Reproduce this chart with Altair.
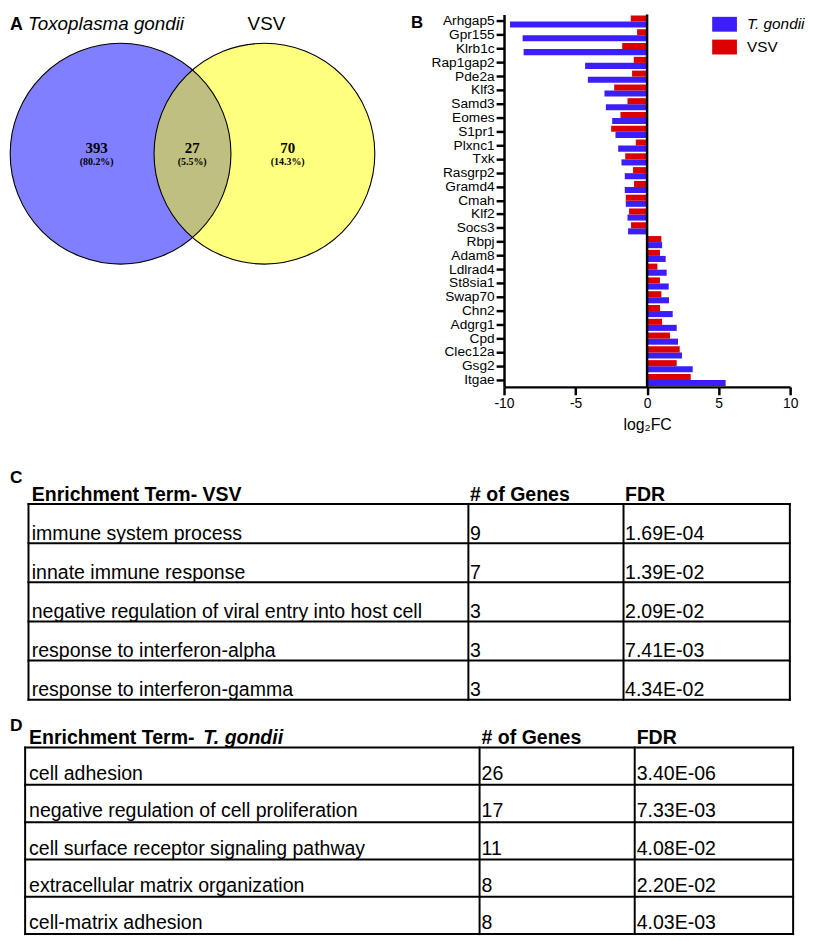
import altair as alt
import pandas as pd

SANS = "Liberation Sans"
SERIF = "Liberation Serif"
TFS = 19.7  # table font size

# ---------------- Panel A : Venn diagram ----------------
venn_sets = ["Toxoplasma gondii", "VSV"]
venn_set_colors = ["#0000FF", "#FFFF00"]
venn_regions = ["T. gondii only", "Both", "VSV only"]
venn_counts = [393, 27, 70]
venn_pcts = ["(80.2%)", "(5.5%)", "(14.3%)"]

# ---------------- Panel B : log2 fold changes ----------------
genes = ["Arhgap5", "Gpr155", "Klrb1c", "Rap1gap2", "Pde2a", "Klf3", "Samd3", "Eomes",
         "S1pr1", "Plxnc1", "Txk", "Rasgrp2", "Gramd4", "Cmah", "Klf2", "Socs3",
         "Rbpj", "Adam8", "Ldlrad4", "St8sia1", "Swap70", "Chn2", "Adgrg1", "Cpd",
         "Clec12a", "Gsg2", "Itgae"]
tg_fc = [-9.58, -8.70, -8.63, -4.33, -4.14, -2.98, -2.88, -2.44, -2.21, -2.02, -1.79,
         -1.56, -1.56, -1.49, -1.37, -1.33, 1.05, 1.30, 1.37, 1.51, 1.53, 1.79, 2.07,
         2.16, 2.44, 3.19, 5.49]
vsv_fc = [-1.14, -0.70, -1.74, -0.93, -1.05, -2.30, -1.37, -1.86, -2.51, -0.79, -1.53,
          -0.98, -0.91, -1.49, -1.26, -1.12, 1.00, 0.90, 0.72, 0.90, 1.00, 0.90, 1.05,
          1.60, 2.28, 2.07, 3.05]
series_names = ["T. gondii", "VSV"]
series_colors = ["#3C1EF8", "#DC0000"]
x_ticks = [-10, -5, 0, 5, 10]

# ---------------- Panel C : VSV enrichment ----------------
vsv_terms = ["immune system process", "innate immune response",
             "negative regulation of viral entry into host cell",
             "response to interferon-alpha", "response to interferon-gamma"]
vsv_ngenes = [9, 7, 3, 3, 3]
vsv_fdr = ["1.69E-04", "1.39E-02", "2.09E-02", "7.41E-03", "4.34E-02"]

# ---------------- Panel D : T. gondii enrichment ----------------
tg_terms = ["cell adhesion", "negative regulation of cell proliferation",
            "cell surface receptor signaling pathway", "extracellular matrix organization",
            "cell-matrix adhesion"]
tg_ngenes = [26, 17, 11, 8, 8]
tg_fdr = ["3.40E-06", "7.33E-03", "4.08E-02", "2.20E-02", "4.03E-03"]

col_headers = ["# of Genes", "FDR"]

one = pd.DataFrame({"k": [0]})


def label(text, x, y, size, weight="normal", style="normal", align="left", font=SANS):
    return alt.Chart(pd.DataFrame({"t": [text]})).mark_text(
        align=align, baseline="alphabetic", fontSize=size, fontWeight=weight,
        fontStyle=style, font=font, color="black"
    ).encode(x=alt.value(x), y=alt.value(y), text="t:N")


# ---------------- Venn chart ----------------
set_df = pd.DataFrame({"set": venn_sets})
reg_df = pd.DataFrame({"region": venn_regions,
                       "count": [str(c) for c in venn_counts],
                       "pct": venn_pcts})
VX = alt.X("set:N", scale=alt.Scale(domain=venn_sets, range=[111.7, 257], padding=0), axis=None)
RX = alt.X("region:N", scale=alt.Scale(domain=venn_regions, range=[87.5, 280.5], padding=0), axis=None)
CIRCLE = 223 ** 2

fills = alt.Chart(set_df).mark_point(
    shape="circle", filled=True, opacity=1, fillOpacity=0.5, strokeWidth=0, size=CIRCLE
).encode(
    x=VX, y=alt.value(140.5),
    fill=alt.Fill("set:N", scale=alt.Scale(domain=venn_sets, range=venn_set_colors), legend=None),
)
outlines = alt.Chart(set_df).mark_point(
    shape="circle", filled=False, opacity=1, color="black", stroke="black",
    strokeWidth=1.1, size=CIRCLE
).encode(x=VX, y=alt.value(140.5))
counts = alt.Chart(reg_df).mark_text(
    font=SERIF, fontWeight="bold", fontSize=15, baseline="middle", color="black"
).encode(x=RX, y=alt.value(135.0), text="count:N")
pcts = alt.Chart(reg_df).mark_text(
    font=SERIF, fontWeight="bold", fontSize=10, baseline="middle", color="black"
).encode(x=RX, y=alt.value(148.6), text="pct:N")

venn = alt.layer(
    fills, outlines, counts, pcts,
    label("A", 0, 15.5, 18, weight="bold"),
    label(venn_sets[0], 18.2, 15.5, 19, style="italic"),
    label(venn_sets[1], 259, 15.5, 19, align="center"),
    label("B", 405, 14, 17, weight="bold"),
).resolve_scale(x="independent").properties(width=499, height=376)

# ---------------- Bar chart ----------------
rows = []
for g, a, b in zip(genes, tg_fc, vsv_fc):
    rows.append({"gene": g, "series": series_names[0], "fc": a})
    rows.append({"gene": g, "series": series_names[1], "fc": b})
bdf = pd.DataFrame(rows)

ax_common = dict(labelFont=SANS, labelColor="black",
                 tickSize=8, tickWidth=2.5, tickColor="black",
                 domainColor="black", domainWidth=2.5)

bars = alt.Chart(bdf).mark_bar().encode(
    x=alt.X("fc:Q", scale=alt.Scale(domain=[-10, 10], nice=False, zero=False),
            axis=alt.Axis(values=x_ticks, title="log₂FC", grid=False, labelFlush=False,
                          labelExpr="'' + datum.value", labelFontSize=14,
                          labelPadding=2, titlePadding=6, titleFont=SANS, titleFontSize=16,
                          titleFontWeight="normal", titleColor="black", **ax_common)),
    y=alt.Y("gene:N", sort=genes, scale=alt.Scale(paddingInner=0.12, paddingOuter=0.06),
            axis=alt.Axis(title=None, labelPadding=2, labelFontSize=13.8, **ax_common)),
    yOffset=alt.YOffset("series:N", sort=[series_names[1], series_names[0]],
                        scale=alt.Scale(paddingInner=0, paddingOuter=0)),
    color=alt.Color("series:N", scale=alt.Scale(domain=series_names, range=series_colors),
                    legend=alt.Legend(
                        title=None, orient="none", legendX=714, legendY=2,
                        symbolType="M-1.667,-1H1.667V1H-1.667Z", symbolSize=225,
                        symbolStrokeWidth=0, symbolOpacity=1,
                        labelFont=SANS, labelFontSize=15.5, labelColor="black",
                        labelOffset=15, rowPadding=6, padding=0,
                        labelFontStyle=alt.ExprRef(
                            expr="datum.label == 'T. gondii' ? 'italic' : 'normal'"))),
)
zero_line = alt.Chart(one).mark_rule(color="black", strokeWidth=2.5).encode(x=alt.datum(0))
bar_chart = alt.layer(bars, zero_line).properties(width=289, height=376)


# ---------------- Tables ----------------
def make_table(letter, header_parts, terms, ngenes, fdrs, g, rowfield):
    n = len(terms)
    df = pd.DataFrame({"term": terms, "genes": [str(v) for v in ngenes], "fdr": fdrs,
                       rowfield: list(range(1, n + 1))})
    ys = alt.Scale(domain=[0, n], range=[g["top"], g["bottom"]])
    Y = alt.Y(f"{rowfield}:Q", scale=ys, axis=None)
    layers = []
    for field, xv in [("term", g["x_term"]), ("genes", g["x_genes"]), ("fdr", g["x_fdr"])]:
        layers.append(alt.Chart(df).mark_text(
            align="left", baseline="alphabetic", dy=g["dy"], fontSize=TFS, font=SANS, color="black"
        ).encode(x=alt.value(xv), y=Y, text=f"{field}:N"))
    edges = pd.DataFrame({rowfield: list(range(0, n + 1))})
    layers.append(alt.Chart(edges).mark_rule(color="black", strokeWidth=2, strokeCap="square").encode(
        y=Y, x=alt.value(g["left"]), x2=alt.value(g["right"])))
    for xv in [g["left"], g["c1"], g["c2"], g["right"]]:
        layers.append(alt.Chart(one).mark_rule(color="black", strokeWidth=2, strokeCap="square").encode(
            x=alt.value(xv), y=alt.value(g["top"]), y2=alt.value(g["bottom"])))
    layers.append(label(letter, 0, g["letter_y"], 17.5, weight="bold"))
    for text, style, xv in header_parts:
        layers.append(label(text, xv, g["head_y"], TFS, weight="bold", style=style))
    layers.append(label(col_headers[0], g["x_genes"], g["head_y"], TFS, weight="bold"))
    layers.append(label(col_headers[1], g["x_fdr"], g["head_y"], TFS, weight="bold"))
    return alt.layer(*layers)


table_c = make_table(
    "C", [("Enrichment Term- VSV", "normal", 22)], vsv_terms, vsv_ngenes, vsv_fdr,
    dict(top=494.3, bottom=692, left=18.7, c1=463, c2=619.7, right=787.7,
         x_term=22, x_genes=464.7, x_fdr=621.3, dy=-3.5, head_y=491, letter_y=472.7),
    "row_c")
table_d = make_table(
    "D", [("Enrichment Term- ", "normal", 19.3), ("T. gondii", "italic", 195.3)],
    tg_terms, tg_ngenes, tg_fdr,
    dict(top=740.3, bottom=928.7, left=15.3, c1=474.3, c2=631, right=791,
         x_term=19.3, x_genes=476.3, x_fdr=633, dy=-5, head_y=736.3, letter_y=723.7),
    "row_d")
tables = alt.layer(table_c, table_d).resolve_scale(y="independent").properties(width=790, height=930)

top = alt.hconcat(venn, bar_chart, spacing=0, bounds="flush")
chart = alt.vconcat(top, tables, spacing=0, bounds="flush").properties(
    padding=0
).configure_view(stroke=None)

chart.save("out.html", embed_options={"renderer": "svg", "actions": False})
